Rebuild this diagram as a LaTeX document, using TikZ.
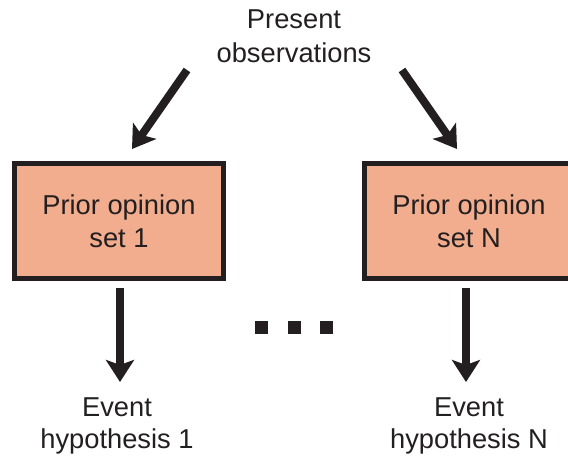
\documentclass[tikz,border=0pt]{standalone}
\usepackage{fontspec}
\setmainfont{Liberation Sans}
\usetikzlibrary{arrows.meta}
\definecolor{ink}{RGB}{35,31,32}
\definecolor{salmon}{RGB}{241,173,141}
\begin{document}
\begin{tikzpicture}[x=1pt,y=-1pt,
  lbl/.style={text=ink,align=center,inner sep=0pt,font=\fontsize{27.3}{33}\selectfont},
  opinion/.style={lbl,draw=ink,fill=salmon,line width=5pt,
    minimum width=209pt,minimum height=115pt},
  arr/.style={draw=ink,line width=8pt,
    -{Stealth[length=22pt,width=28pt,inset=5pt]}},
  dot/.style={fill=ink,minimum size=13pt,inner sep=0pt}]
\useasboundingbox (0,0) rectangle (568,459);
\clip (0,0) rectangle (568,459);

% observations at the top
\node[lbl,font=\fontsize{27.3}{34}\selectfont] (obs) at (294,36) {Present\\observations};

% the two prior-opinion boxes (the right one runs past the edge)
\node[opinion] (p1) at (119,221) {Prior opinion\\set 1};
\node[opinion] (pN) at (469,221) {Prior opinion\\set N};

% hypotheses at the bottom
\node[lbl,font=\fontsize{27.3}{31.5}\selectfont] (e1) at (117,426) {Event\\hypothesis 1};
\node[lbl,font=\fontsize{27.3}{31.5}\selectfont] (eN) at (469,426) {Event\\hypothesis N};

% ellipsis between the two chains
\node[dot] (d1) at (261.5,327.5) {};
\node[dot] (d2) at (294.5,327.5) {};
\node[dot] (d3) at (326.5,327.5) {};

% arrow end points
\coordinate (o1) at (187,70);
\coordinate (t1) at (132,149);
\coordinate (oN) at (402,70);
\coordinate (tN) at (457,149);
\coordinate (b1) at (120,288);
\coordinate (h1) at (120,382);
\coordinate (bN) at (466,288);
\coordinate (hN) at (466,382);

\draw[arr] (o1) -- (t1);
\draw[arr] (oN) -- (tN);
\draw[arr] (b1) -- (h1);
\draw[arr] (bN) -- (hN);
\end{tikzpicture}
\end{document}
